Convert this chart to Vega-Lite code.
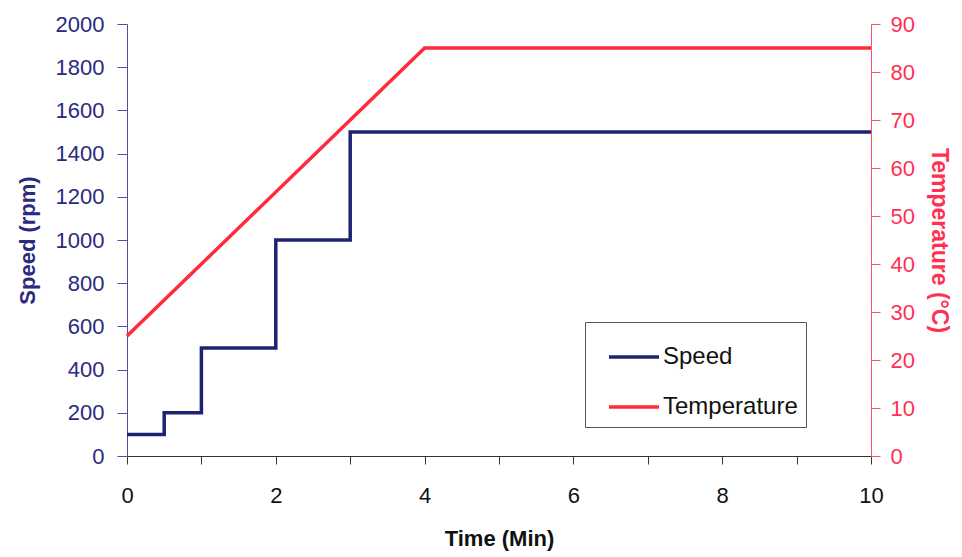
{
  "$schema": "https://vega.github.io/schema/vega-lite/v6.json",
  "width": 744,
  "height": 432,
  "autosize": "none",
  "padding": {"left": 127, "top": 24, "right": 91, "bottom": 101},
  "background": "white",
  "config": {
    "font": "Liberation Sans",
    "view": {"stroke": null},
    "axis": {"grid": false, "labelFont": "Liberation Sans", "titleFont": "Liberation Sans", "labelFlush": false, "format": "d"},
    "legend": {
      "orient": "none",
      "legendX": 458,
      "legendY": 298,
      "strokeColor": "#555555",
      "fillColor": "white",
      "padding": 8,
      "symbolOffset": 14,
      "symbolType": "stroke",
      "symbolSize": 2500,
      "symbolStrokeWidth": 3.5,
      "labelFontSize": 24,
      "labelColor": "#111111",
      "labelFont": "Liberation Sans",
      "labelOffset": 2,
      "rowPadding": 11,
      "title": null
    }
  },
  "layer": [
    {
      "data": {"values": [
        {"time": 0, "speed": 100, "series": "Speed"},
        {"time": 0.5, "speed": 200, "series": "Speed"},
        {"time": 1, "speed": 500, "series": "Speed"},
        {"time": 2, "speed": 1000, "series": "Speed"},
        {"time": 3, "speed": 1500, "series": "Speed"},
        {"time": 10, "speed": 1500, "series": "Speed"}
      ]},
      "mark": {"type": "line", "interpolate": "step-after", "strokeWidth": 3.5},
      "encoding": {
        "x": {"field": "time", "type": "quantitative",
          "scale": {"domain": [0, 10], "nice": false},
          "axis": {"title": "Time (Min)", "values": [0,1,2,3,4,5,6,7,8,9,10],
            "labelExpr": "datum.value % 2 == 0 ? datum.label : ''",
            "labelFontSize": 22, "labelColor": "#111111", "labelPadding": 21,
            "tickSize": 8, "tickColor": "#333333", "domainColor": "#333333",
            "titleFontSize": 22, "titleFontWeight": "bold", "titleColor": "#111111", "titlePadding": 22}},
        "y": {"field": "speed", "type": "quantitative",
          "scale": {"domain": [0, 2000], "nice": false},
          "axis": {"title": "Speed  (rpm)", "values": [0,200,400,600,800,1000,1200,1400,1600,1800,2000],
            "labelFontSize": 22, "labelColor": "#2a2a80", "labelPadding": 13,
            "tickSize": 10, "tickColor": "#5050a8", "domainColor": "#5050a8",
            "titleFontSize": 22, "titleFontWeight": "bold", "titleColor": "#2a2a80", "titlePadding": 16}},
        "color": {"field": "series", "type": "nominal",
          "scale": {"domain": ["Speed", "Temperature"], "range": ["#1c2472", "#ff2a3c"]}}
      }
    },
    {
      "data": {"values": [
        {"time": 0, "temp": 25, "series": "Temperature"},
        {"time": 4, "temp": 85, "series": "Temperature"},
        {"time": 10, "temp": 85, "series": "Temperature"}
      ]},
      "mark": {"type": "line", "strokeWidth": 3.5},
      "encoding": {
        "x": {"field": "time", "type": "quantitative"},
        "y": {"field": "temp", "type": "quantitative",
          "scale": {"domain": [0, 90], "nice": false},
          "axis": {"orient": "right", "title": "Temperature (°C)", "values": [0,10,20,30,40,50,60,70,80,90],
            "labelFontSize": 22, "labelColor": "#ff3050", "labelPadding": 10,
            "tickSize": 9, "tickColor": "#ff5068", "domainColor": "#ff5068",
            "titleFontSize": 23, "titleFontWeight": "bold", "titleColor": "#ff3050", "titlePadding": 12}},
        "color": {"field": "series", "type": "nominal"}
      }
    }
  ],
  "resolve": {"scale": {"y": "independent"}}
}
